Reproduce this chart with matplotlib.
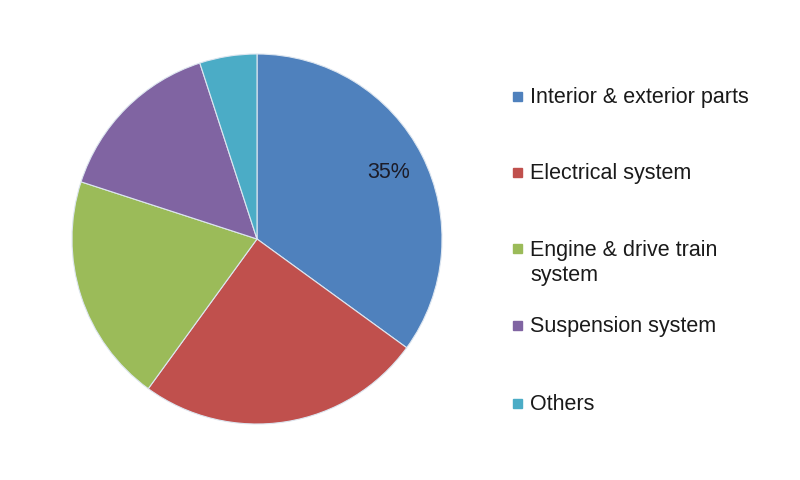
import matplotlib.pyplot as plt
from matplotlib.patches import Rectangle

# segment shares, clockwise from 12 o'clock
segments = ["Interior & exterior parts", "Electrical system",
            "Engine & drive train\nsystem", "Suspension system", "Others"]
shares = [35, 25, 20, 15, 5]
colors = ["#4F81BD", "#C0504D", "#9BBB59", "#8064A2", "#4BACC6"]

W, H = 800, 481
fig = plt.figure(figsize=(W / 100, H / 100), dpi=100)
plt.rcParams['font.family'] = ['Liberation Sans', 'DejaVu Sans']

# pie: centre (257, 240) px, radius 185 px
cx, cy, r = 257, 240, 185
ax = fig.add_axes([(cx - r) / W, (H - cy - r) / H, 2 * r / W, 2 * r / H])


def only_big(pct):
    return f"{pct:.0f}%" if pct >= 30 else ""


wedges, texts, autotexts = ax.pie(
    shares, colors=colors, startangle=90, counterclock=False,
    autopct=only_big, pctdistance=0.8,
    wedgeprops=dict(edgecolor="#dde6f0", linewidth=0.8),
    textprops=dict(fontsize=15.5, color="#1c1c28"))
ax.set_xlim(-1, 1)
ax.set_ylim(-1, 1)
ax.set_aspect("equal")

# legend drawn by hand: marker row and text centre in px from top
legend_y = [97, 173, 249, 326, 404]
text_y = [98, 174, 263, 327, 405]
for label, col, y, ty in zip(segments, colors, legend_y, text_y):
    fig.patches.append(Rectangle((513 / W, (H - y - 4.5) / H), 9 / W, 9 / H,
                                 transform=fig.transFigure, color=col))
    fig.text(530 / W, (H - ty) / H, label, fontsize=15.5, color="#1a1a1a",
             va="center", ha="left", linespacing=1.3)

fig.savefig("out.png", dpi=100, facecolor="white")
